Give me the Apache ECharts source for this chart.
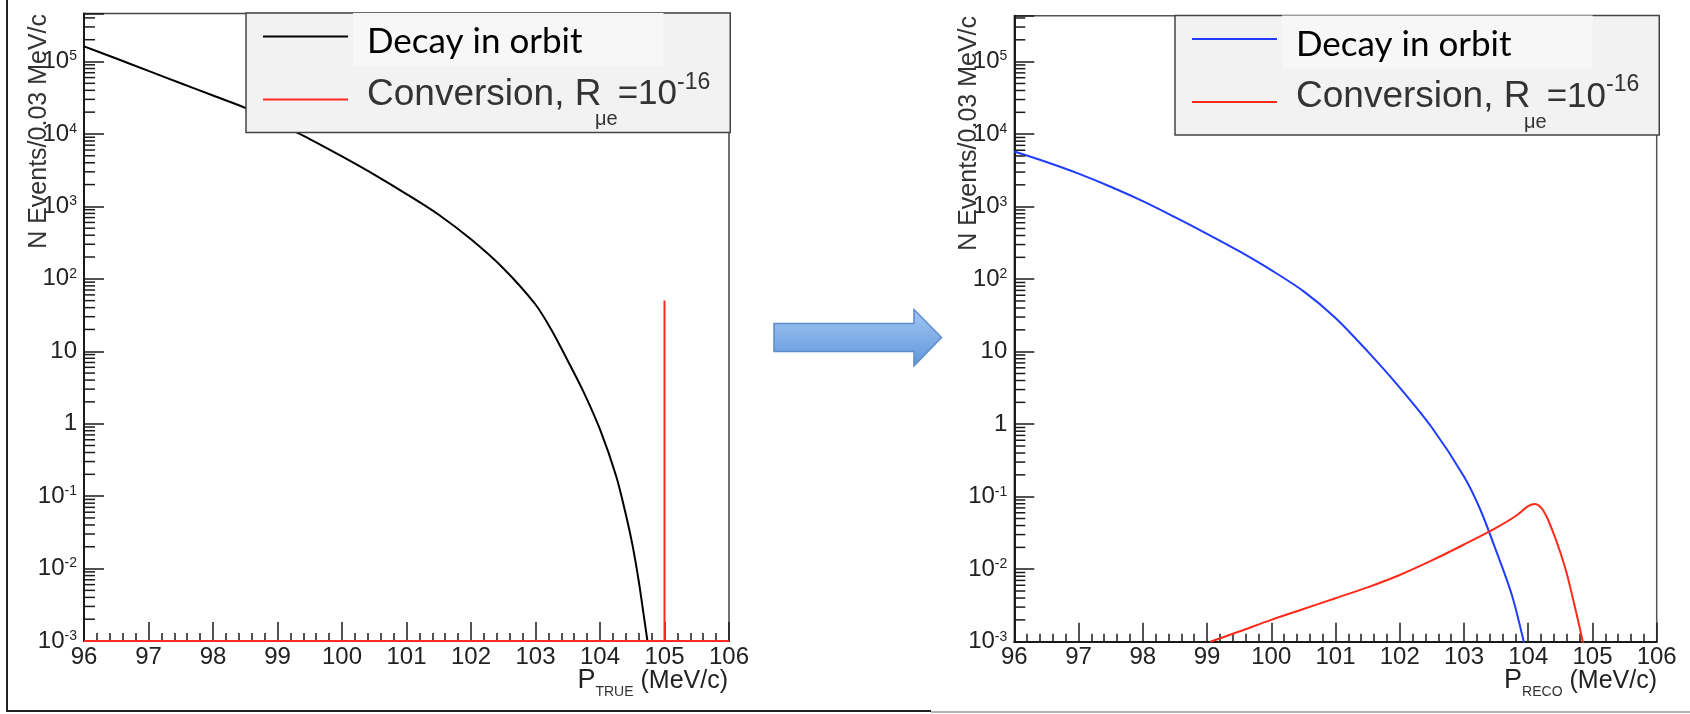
<!DOCTYPE html>
<html>
<head>
<meta charset="UTF-8">
<title>DIO vs conversion</title>
<style>
  html, body { margin: 0; padding: 0; width: 1690px; height: 714px; overflow: hidden; background: #fff; }
  #main { width: 1690px; height: 714px; }
</style>
</head>
<body>
<div id="main"></div>
<script src="https://cdn.jsdelivr.net/npm/echarts@6/dist/echarts.min.js"></script>
<script>
// axis ranges
var xMin = 96, xMax = 106;
var yMin = 0.001;
var yMaxTrue = 460000, yMaxReco = 430000;

// log minor tick multipliers / decades
var minorMult = [2, 3, 4, 5, 6, 7, 8, 9];
var decades = [-3, -2, -1, 0, 1, 2, 3, 4, 5];

// left panel: true momentum
var trueDioX = [96.0, 96.5, 97.0, 97.5, 98.0, 98.5, 99.0, 99.5, 100.0, 100.5, 101.0, 101.5, 102.0, 102.5, 103.0, 103.25, 103.5, 103.75, 104.0, 104.25, 104.4, 104.5, 104.6, 104.7, 104.8];
var trueDioY = [162000, 110000, 74100, 50100, 33900, 22900, 14100, 8510, 4900, 2750, 1480, 767, 351, 140, 44.2, 19.5, 7.41, 2.69, 0.832, 0.19, 0.0562, 0.0219, 0.00676, 0.00166, 0.0004];
var trueConvX = [96, 105, 105, 105, 106];
var trueConvY = [0.001, 0.001, 50, 0.001, 0.001];

// right panel: reconstructed momentum
var recoDioX = [96.0, 96.5, 97.0, 97.5, 98.0, 98.5, 99.0, 99.5, 100.0, 100.5, 101.0, 101.5, 102.0, 102.5, 103.0, 103.25, 103.5, 103.75, 103.93, 104.0];
var recoDioY = [5750, 4120, 2850, 1880, 1190, 716, 422, 243, 133, 68.4, 29.2, 10.1, 3.2, 0.90, 0.19, 0.0676, 0.018, 0.00427, 0.001, 0.0005];
var recoConvX = [99.05, 99.5, 100.0, 100.5, 101.0, 101.5, 102.0, 102.5, 103.0, 103.5, 103.8, 104.0, 104.1, 104.2, 104.3, 104.4, 104.5, 104.6, 104.7, 104.8, 104.86];
var recoConvY = [0.001, 0.00138, 0.0020, 0.00282, 0.00398, 0.00562, 0.00832, 0.0132, 0.0219, 0.0372, 0.0537, 0.0741, 0.0794, 0.0708, 0.0501, 0.0302, 0.017, 0.0087, 0.0038, 0.00158, 0.00089];

var legendNames = {
  dioTrue: '{d|Decay in orbit}{e| }',
  convTrue: '{c1|Conversion, R}{sub|\u03bce}{c|=10}{sup|-16}',
  dioReco: '{d|Decay in orbit}{e| }',
  convReco: '{c1|Conversion, R}{sub|\u03bce}{c|=10}{sup|-16}'
};

var sans = 'Liberation Sans';
var ink = '#1a1a1a';

function zip(xs, ys) {
  return xs.map(function (x, i) { return [x, ys[i]]; });
}

function minorTicks(max) {
  var out = [];
  decades.forEach(function (d) {
    minorMult.forEach(function (m) {
      var v = m * Math.pow(10, d);
      if (v < max) out.push([xMin, v]);
    });
  });
  return out;
}

function powLabel(v) {
  var lg = Math.log10(v);
  var e = Math.round(lg);
  if (Math.abs(lg - e) > 1e-6) return '';
  if (e === 0) return '{b|1}';
  if (e === 1) return '{b|10}';
  return '{b|10}{s|' + e + '}';
}

function xAxisCfg(gi) {
  return {
    type: 'value', gridIndex: gi, min: xMin, max: xMax, interval: 1,
    axisLine: { show: true, onZero: false, lineStyle: { color: ink, width: 2 } },
    axisTick: { show: true, inside: true, length: 19, lineStyle: { color: ink, width: 1.5 } },
    minorTick: { show: true, splitNumber: 5, length: 8, lineStyle: { color: ink, width: 1.5 } },
    splitLine: { show: false },
    minorSplitLine: { show: false },
    axisLabel: { margin: 4, fontFamily: sans, fontSize: 24, color: '#222' }
  };
}

function yAxisCfg(gi, max) {
  return {
    type: 'log', logBase: 10, gridIndex: gi, min: yMin, max: max, interval: 1,
    axisLine: { show: true, onZero: false, lineStyle: { color: ink, width: 2 } },
    axisTick: { show: true, inside: true, length: 20, lineStyle: { color: ink, width: 1.5 } },
    minorTick: { show: false },
    splitLine: { show: false },
    axisLabel: {
      margin: 7,
      formatter: powLabel,
      rich: {
        b: { fontFamily: sans, fontSize: 24, color: '#222', height: 24, lineHeight: 24 },
        s: { fontFamily: sans, fontSize: 14, color: '#222', height: 14, verticalAlign: 'top' }
      }
    }
  };
}

function legendCfg(left, top, names) {
  return {
    orient: 'vertical', left: left, top: top,
    data: names, selectedMode: false,
    icon: 'rect', itemWidth: 85, itemHeight: 2, itemGap: 5,
    padding: [0, 20, 3, 17],
    backgroundColor: '#f2f2f2', borderColor: '#444', borderWidth: 1.5,
    formatter: function (n) { return legendNames[n]; },
    textStyle: {
      fontFamily: sans, fontSize: 35, color: '#333',
      rich: {
        d: { fontFamily: 'Lato', fontSize: 35, color: '#000', height: 36, lineHeight: 53,
             backgroundColor: '#f7f7f7', padding: [11, 81, 6, 14], verticalAlign: 'bottom' },
        e: { fontSize: 2, lineHeight: 59 },
        c1: { fontFamily: sans, fontSize: 37, color: '#333', height: 46, lineHeight: 46, width: 228,
              padding: [0, 0, 0, 14], verticalAlign: 'top' },
        c: { fontFamily: sans, fontSize: 35, color: '#333', height: 46, lineHeight: 46, verticalAlign: 'top' },
        sub: { fontFamily: sans, fontSize: 20, color: '#333', height: 16, lineHeight: 56,
               padding: [40, 0, 0, 0], verticalAlign: 'top' },
        sup: { fontFamily: sans, fontSize: 23, color: '#333', height: 22, lineHeight: 22, verticalAlign: 'top' }
      }
    }
  };
}

function lineSeries(name, gi, xs, ys, color) {
  return {
    name: name, type: 'line', xAxisIndex: gi, yAxisIndex: gi,
    data: zip(xs, ys), symbol: 'none', smooth: 0.3, color: color,
    lineStyle: { color: color, width: 2 }, silent: true, z: 3
  };
}

function tickSeries(gi, max) {
  return {
    type: 'custom', xAxisIndex: gi, yAxisIndex: gi, silent: true, clip: false, z: 4,
    data: minorTicks(max),
    renderItem: function (params, api) {
      var p = api.coord([api.value(0), api.value(1)]);
      return { type: 'line', shape: { x1: p[0], y1: p[1], x2: p[0] + 11, y2: p[1] },
               style: { stroke: ink, lineWidth: 1.5 } };
    }
  };
}

function xTitle(x, sub) {
  return {
    type: 'text', x: x, y: 683, z: 10,
    style: {
      text: '{p|P}{s|' + sub + '}{u| (MeV/c)}',
      align: 'right', verticalAlign: 'middle', fill: '#222',
      rich: {
        p: { fontFamily: sans, fontSize: 27, height: 27, verticalAlign: 'top', fill: '#222' },
        s: { fontFamily: sans, fontSize: 14, height: 14, padding: [18, 0, 0, 0], verticalAlign: 'top', fill: '#333' },
        u: { fontFamily: sans, fontSize: 25, height: 25, padding: [2, 0, 0, 0], verticalAlign: 'top', fill: '#222' }
      }
    }
  };
}

function yTitle(x, y) {
  return {
    type: 'text', x: x, y: y, rotation: Math.PI / 2, z: 10,
    style: {
      text: 'N Events/0.03 MeV/c', fontFamily: sans, fontSize: 25,
      fill: '#333', align: 'right', verticalAlign: 'middle'
    }
  };
}

var chart = echarts.init(document.getElementById('main'), null, { renderer: 'canvas' });

var option = {
  animation: false,
  backgroundColor: '#fff',
  grid: [
    { left: 84, top: 13.5, width: 645, height: 627.5, show: true, borderColor: '#444', borderWidth: 1.5, backgroundColor: 'transparent', outerBoundsMode: 'none' },
    { left: 1014.3, top: 15.7, width: 642.4, height: 626, show: true, borderColor: '#555', borderWidth: 1.5, backgroundColor: 'transparent', outerBoundsMode: 'none' }
  ],
  xAxis: [xAxisCfg(0), xAxisCfg(1)],
  yAxis: [yAxisCfg(0, yMaxTrue), yAxisCfg(1, yMaxReco)],
  legend: [
    legendCfg(246, 13, ['dioTrue', 'convTrue']),
    legendCfg(1175, 15.5, ['dioReco', 'convReco'])
  ],
  series: [
    lineSeries('dioTrue', 0, trueDioX, trueDioY, '#000000'),
    Object.assign(lineSeries('convTrue', 0, trueConvX, trueConvY, '#ff2a22'), { smooth: false }),
    lineSeries('dioReco', 1, recoDioX, recoDioY, '#1f3cff'),
    lineSeries('convReco', 1, recoConvX, recoConvY, '#ff2a1a'),
    tickSeries(0, yMaxTrue),
    tickSeries(1, yMaxReco)
  ],
  graphic: [
    yTitle(39, 14),
    yTitle(969, 16),
    xTitle(728, 'TRUE'),
    xTitle(1657, 'RECO'),
    {
      type: 'polygon', z: 10,
      shape: { points: [[774, 323.5], [914, 323.5], [914, 309.5], [941.5, 337.5], [914, 366], [914, 351.5], [774, 351.5]] },
      style: {
        fill: new echarts.graphic.LinearGradient(0, 0, 0, 1, [
          { offset: 0, color: '#a3c7f3' },
          { offset: 1, color: '#5f96dc' }
        ]),
        stroke: '#5b8ccc', lineWidth: 1.5
      }
    },
    { type: 'polyline', z: 10, shape: { points: [[7, 0], [7, 711], [931, 711]] },
      style: { stroke: '#222', lineWidth: 2, fill: null } },
    { type: 'line', z: 10, shape: { x1: 931, y1: 712, x2: 1690, y2: 712 },
      style: { stroke: '#9a9a9a', lineWidth: 1.5 } }
  ]
};

chart.setOption(option);
</script>
</body>
</html>
